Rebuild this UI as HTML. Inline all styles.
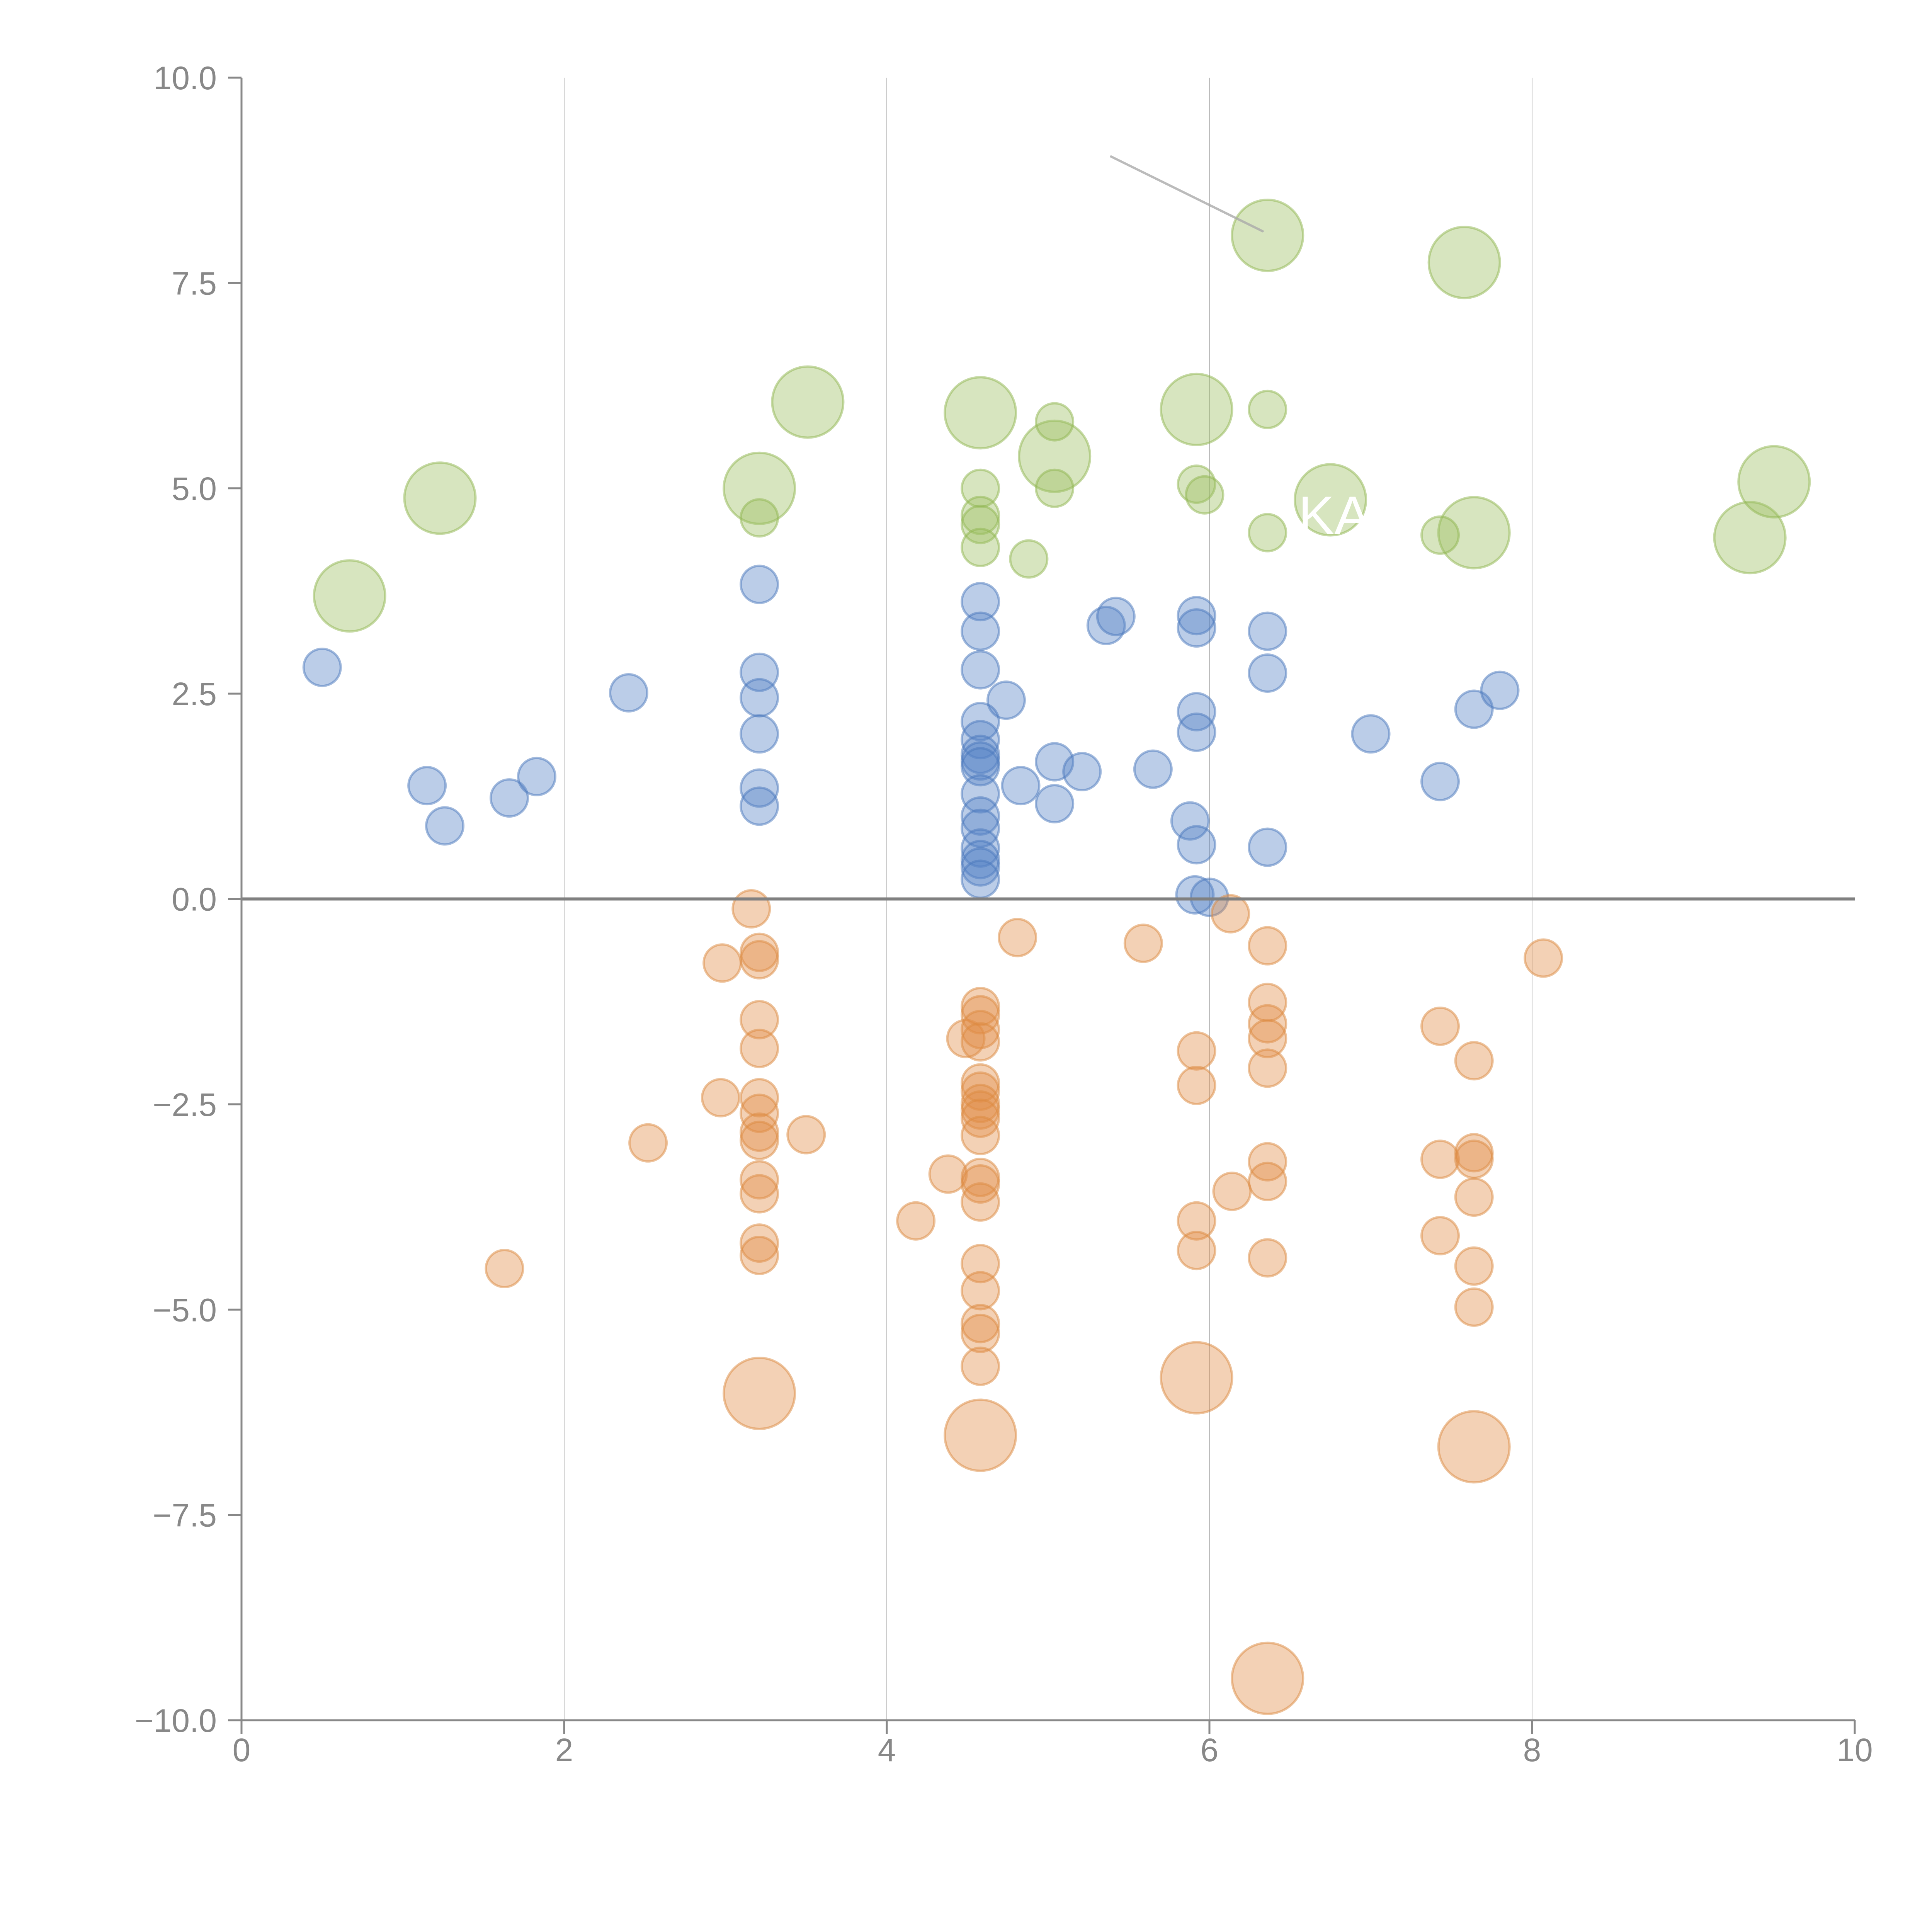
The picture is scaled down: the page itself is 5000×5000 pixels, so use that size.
<!DOCTYPE html>
<html><head><meta charset="utf-8"><style>
html,body{margin:0;padding:0;background:#fff;}
svg{display:block;}
text{font-family:"Liberation Sans",sans-serif;fill:#888;font-size:84px;}
</style></head><body>
<svg id="chart" width="5000" height="5000" viewBox="0 0 5000 5000" xmlns="http://www.w3.org/2000/svg">
<g id="grid"></g>
<g id="marks"></g>
<g id="axes"></g>
</svg>
<script>
const xTicks = [0, 2, 4, 6, 8, 10];
const yTicks = [10, 7.5, 5, 2.5, 0, -2.5, -5, -7.5, -10];
const yTickLabels = ["10.0", "7.5", "5.0", "2.5", "0.0", "\u22122.5", "\u22125.0", "\u22127.5", "\u221210.0"];

const blueX = [0.50,1.15,1.26,1.66,1.83,2.40,3.21,3.21,3.21,3.21,3.21,3.21,4.58,4.58,4.58,4.74,4.58,4.58,4.58,4.58,4.58,4.83,4.58,5.04,5.04,5.21,4.58,4.58,4.58,4.58,4.58,4.58,5.65,5.36,5.42,5.92,5.92,5.92,5.92,5.88,5.92,5.91,6.00,6.36,6.36,6.36,7.00,7.43,7.64,7.80];
const blueY = [2.82,1.38,0.89,1.23,1.49,2.51,3.83,2.76,2.45,2.01,1.35,1.13,3.62,3.26,2.79,2.42,2.16,1.94,1.76,1.68,1.61,1.38,1.28,1.67,1.16,1.55,1.01,0.86,0.62,0.48,0.39,0.24,1.58,3.33,3.44,3.45,3.30,2.28,2.03,0.95,0.66,0.05,0.02,3.26,2.75,0.63,2.01,1.43,2.31,2.54];

const orangeX = [3.16,2.98,3.21,3.21,3.21,3.21,2.97,3.21,3.21,3.21,3.21,3.50,2.52,3.21,3.21,3.21,3.21,1.63,4.18,4.38,4.49,4.58,4.58,4.58,4.58,4.58,4.58,4.58,4.58,4.58,4.58,4.58,4.58,4.58,4.58,4.58,4.58,4.58,4.58,4.81,5.59,6.13,5.92,5.92,5.92,5.92,6.14,6.36,6.36,6.36,6.36,6.36,6.36,6.36,6.36,7.43,7.64,7.43,7.64,7.64,7.64,7.43,7.64,7.64,8.07];
const orangeY = [-0.12,-0.78,-0.65,-0.74,-1.47,-1.82,-2.42,-2.42,-2.61,-2.84,-2.94,-2.87,-2.97,-3.42,-3.59,-4.19,-4.34,-4.50,-3.92,-3.35,-1.70,-1.31,-1.41,-1.59,-1.74,-2.24,-2.34,-2.49,-2.57,-2.67,-2.88,-3.39,-3.47,-3.69,-4.44,-4.77,-5.17,-5.29,-5.69,-0.47,-0.54,-0.18,-1.85,-2.27,-3.92,-4.28,-3.56,-0.57,-1.26,-1.52,-1.70,-2.06,-3.20,-3.44,-4.37,-1.55,-1.97,-3.17,-3.09,-3.17,-3.63,-4.10,-4.47,-4.97,-0.72];

const orangeBigX = [3.21,4.58,5.92,7.64,6.36];
const orangeBigY = [-6.02,-6.53,-5.83,-6.67,-9.49];

const greenBigX = [0.67,1.23,3.21,3.51,4.58,5.04,5.92,6.36,6.75,7.58,7.64,9.35,9.50];
const greenBigY = [3.69,4.88,5.00,6.05,5.92,5.39,5.96,8.08,4.86,7.75,4.46,4.40,5.08];

const greenX = [3.21,4.58,4.58,4.58,4.58,4.88,5.04,5.04,5.92,5.97,6.36,6.36,7.43];
const greenY = [4.64,5.00,4.67,4.56,4.28,4.14,5.81,5.00,5.05,4.92,5.96,4.46,4.43];

const annotX = [5.39, 6.33];
const annotY = [9.04, 8.13];

const NS = "http://www.w3.org/2000/svg";
const X0 = 625, X1 = 4800, Y0 = 201, Y1 = 4452;
function sx(v){ return X0 + (v - 0) / 10 * (X1 - X0); }
function sy(v){ return Y1 - (v + 10) / 20 * (Y1 - Y0); }
function mk(tag, attrs, parent){
  const e = document.createElementNS(NS, tag);
  for (const k in attrs) e.setAttribute(k, attrs[k]);
  parent.appendChild(e);
  return e;
}
const grid = document.getElementById('grid');
const marks = document.getElementById('marks');
const axes = document.getElementById('axes');

xTicks.forEach(function(t){
  if (t === 0 || t === 10) return;
  const l = mk('line', {x1: sx(t), x2: sx(t), y1: Y0, y2: Y1, stroke: '#bbb', 'stroke-width': 2}, grid);
  
  
});

function drawSeries(xs, ys, r, fill, stroke, name){
  xs.forEach(function(x, i){
    const c = mk('circle', {cx: sx(x), cy: sy(ys[i]), r: r, fill: fill, 'fill-opacity': 0.4, stroke: stroke, 'stroke-opacity': 0.5, 'stroke-width': 6}, marks);
    
    
  });
}
drawSeries(greenBigX, greenBigY, 92, '#9cbf5e', '#8fb550', 'bubble-green-large');
drawSeries(greenX, greenY, 48, '#9cbf5e', '#8fb550', 'bubble-green');
drawSeries(blueX, blueY, 48, '#5583c5', '#4a78bc', 'bubble-blue');
drawSeries(orangeX, orangeY, 48, '#e08c45', '#dc8a3f', 'bubble-orange');
drawSeries(orangeBigX, orangeBigY, 92, '#e08c45', '#dc8a3f', 'bubble-orange-large');

const an = mk('line', {x1: sx(annotX[0]), y1: sy(annotY[0]), x2: sx(annotX[1]), y2: sy(annotY[1]), stroke: '#aaa', 'stroke-width': 6, 'stroke-linecap': 'round', 'stroke-opacity': 0.8}, marks);



const ka = mk('text', {x: 3360, y: 1382, style: 'fill:#fff;font-size:140px'}, marks);
ka.textContent = 'KA';



const zl = mk('line', {x1: X0, x2: X1, y1: sy(0), y2: sy(0), stroke: '#808080', 'stroke-width': 8}, axes);



const ya = mk('line', {x1: X0, x2: X0, y1: Y0, y2: Y1, stroke: '#888', 'stroke-width': 5}, axes);


const xa = mk('line', {x1: X0, x2: X1, y1: Y1, y2: Y1, stroke: '#888', 'stroke-width': 5}, axes);



yTicks.forEach(function(t, i){
  const tk = mk('line', {x1: X0 - 35, x2: X0, y1: sy(t), y2: sy(t), stroke: '#888', 'stroke-width': 5}, axes);
  
  
  const tx = mk('text', {x: X0 - 64, y: sy(t) + 30, 'text-anchor': 'end'}, axes);
  tx.textContent = yTickLabels[i];
  
  
});
xTicks.forEach(function(t){
  const tk = mk('line', {x1: sx(t), x2: sx(t), y1: Y1, y2: Y1 + 35, stroke: '#888', 'stroke-width': 5}, axes);
  
  
  const tx = mk('text', {x: sx(t), y: 4558, 'text-anchor': 'middle'}, axes);
  tx.textContent = String(t);
  
  
});
</script>
</body></html>
